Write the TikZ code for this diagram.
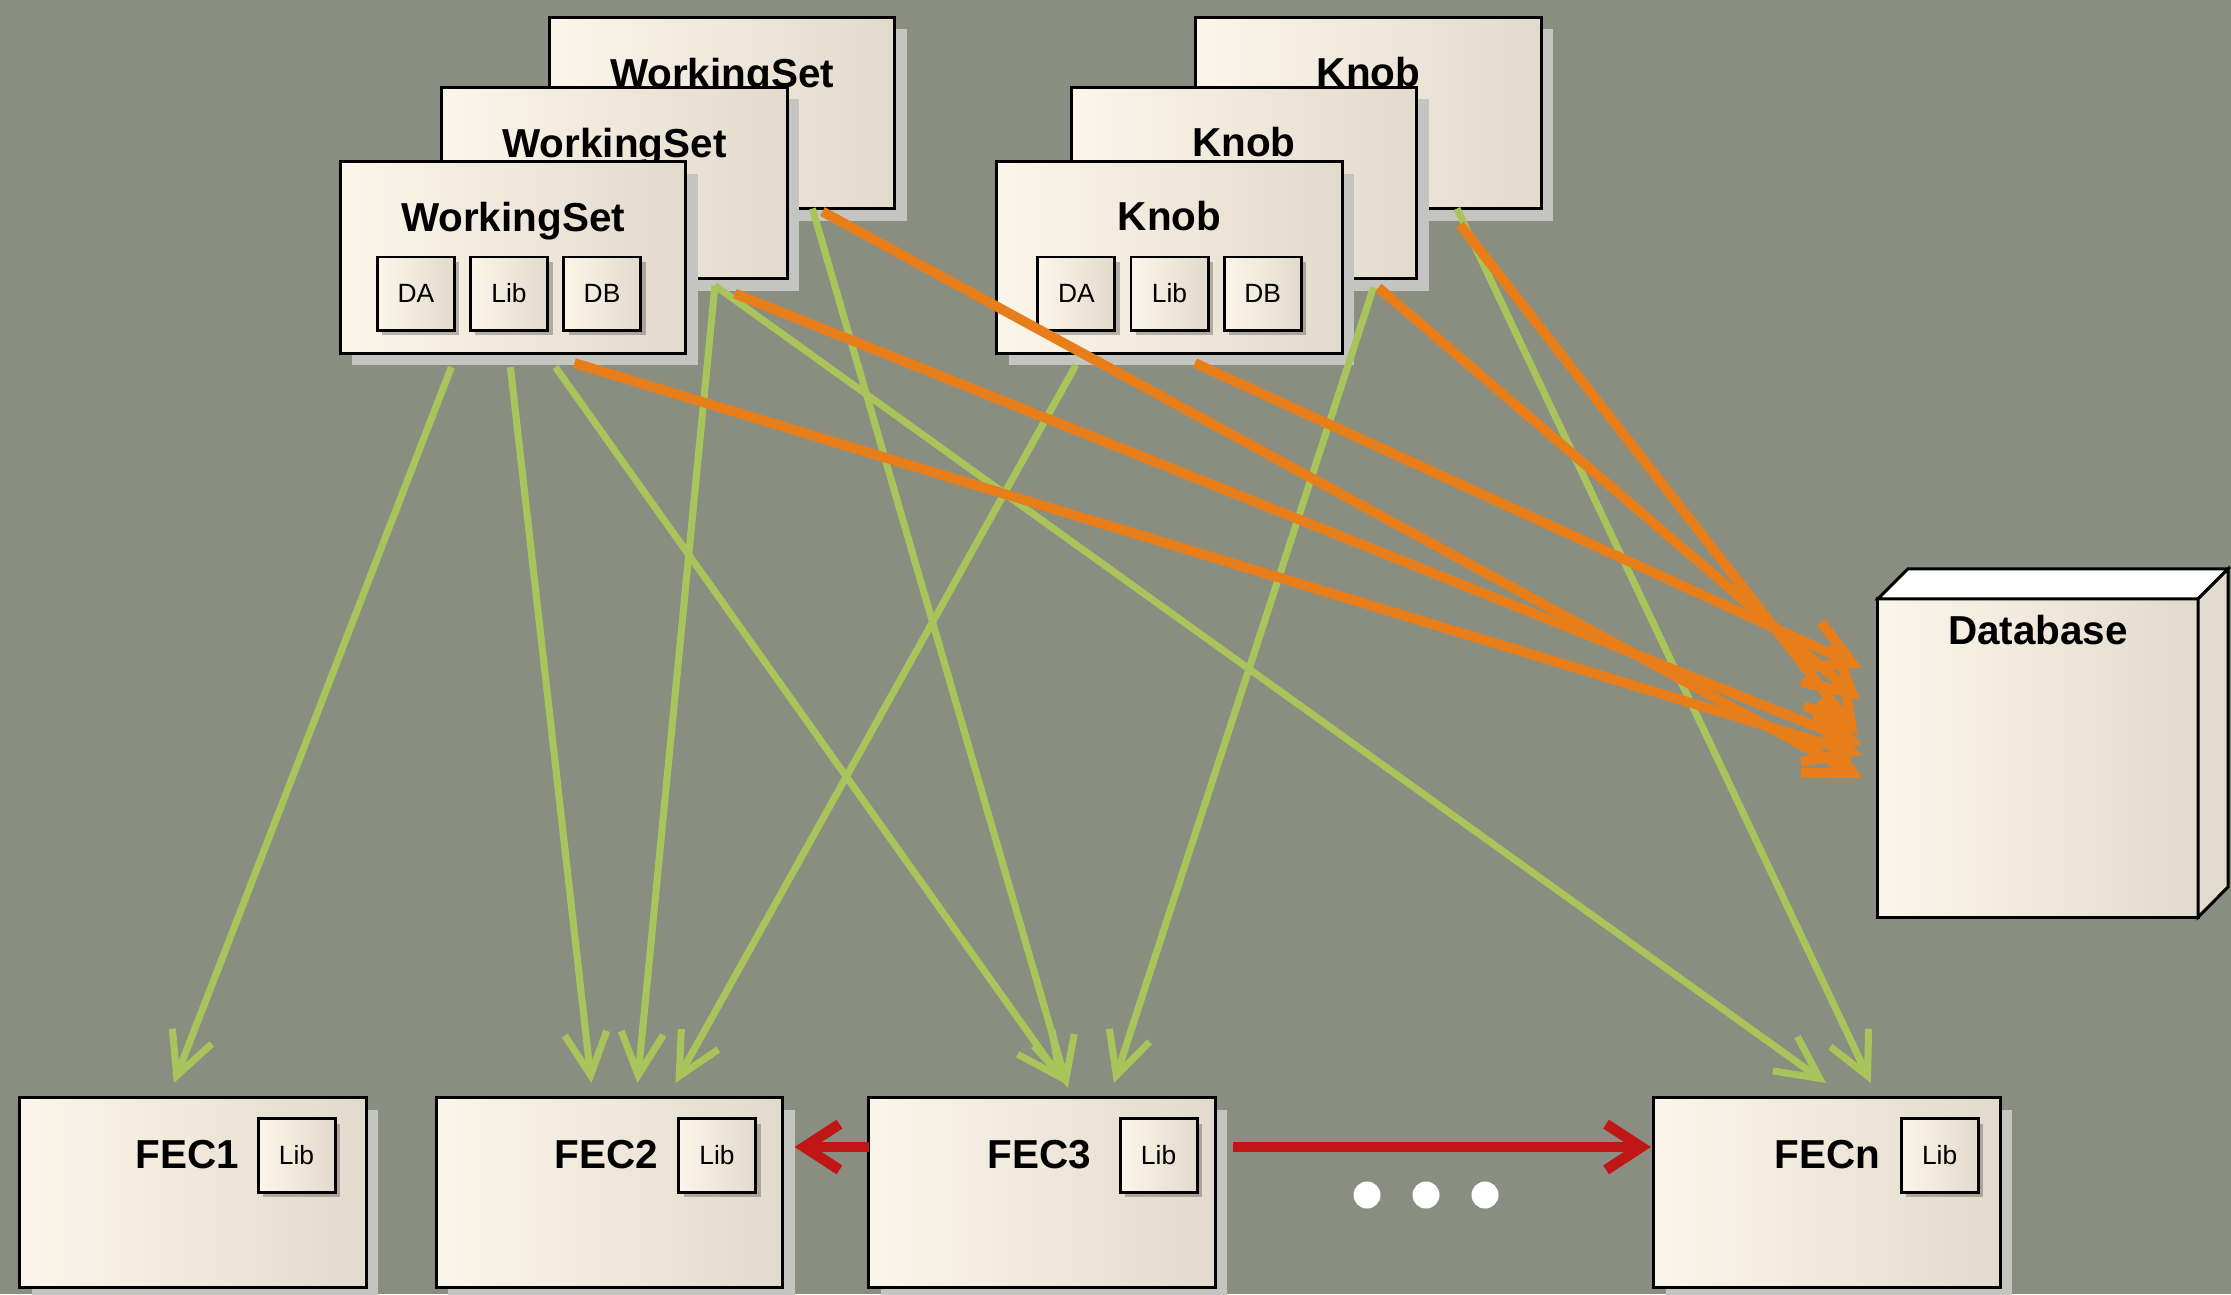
\documentclass[tikz,border=0pt]{standalone}
\usepackage{fontspec}
\setmainfont{Liberation Sans}
\usetikzlibrary{positioning,calc,arrows.meta,shadows}
\definecolor{bggray}{RGB}{137,142,129}
\definecolor{cream}{RGB}{252,246,234}
\definecolor{creamdark}{RGB}{226,218,204}
\definecolor{shade}{RGB}{196,197,193}
\definecolor{leaf}{RGB}{170,196,92}
\definecolor{amber}{RGB}{232,126,26}
\definecolor{brick}{RGB}{192,22,22}
\tikzset{
  face/.style={draw=black, line width=0.85pt, left color=cream, right color=creamdark,
    inner sep=0pt, outer sep=0pt},
  box/.style={face, minimum width=3.45cm, minimum height=1.91cm,
    drop shadow={shadow xshift=0.12cm, shadow yshift=-0.12cm, fill=shade, opacity=1}},
  part/.style={face, minimum width=0.77cm, minimum height=0.73cm,
    font=\fontsize{7.5}{9}\selectfont,
    drop shadow={shadow xshift=0.05cm, shadow yshift=-0.05cm, fill=black, opacity=.25}},
  title/.style={font=\bfseries\fontsize{11.5}{13}\selectfont, inner sep=0pt},
  leafarrow/.style={draw=leaf, line width=2pt, -{Straight Barb[length=12pt,width=12pt]}},
  amberarrow/.style={draw=amber, line width=2.8pt, -{Straight Barb[length=13pt,width=14pt]}},
  brickarrow/.style={draw=brick, line width=3pt, -{Straight Barb[length=10pt,width=13pt]}}
}
\begin{document}
\begin{tikzpicture}[x=0.01cm, y=-0.01cm]
  \useasboundingbox (0,0) rectangle (2231,1294);
  \fill[bggray] (0,0) rectangle (2231,1294);

  \foreach \n/\x/\y in {ws3/722/113, ws2/614.5/183, ws1/513/257.5} {
    \node[box] (\n) at (\x,\y) {};
    \node[title, anchor=base] (\n-t) at ([yshift=-0.70cm]\n.north) {WorkingSet};
  }
  \node[part] (ws1lib) at ([yshift=-0.36cm,xshift=-0.04cm]ws1.center) {Lib};
  \node[part, left=0.16cm of ws1lib] (ws1da) {DA};
  \node[part, right=0.16cm of ws1lib] (ws1db) {DB};

  \foreach \n/\x/\y in {kn3/1368.5/113, kn2/1244/183, kn1/1169.5/257.5} {
    \node[box] (\n) at (\x,\y) {};
    \node[title, anchor=base] (\n-t) at ([yshift=-0.69cm]\n.north) {Knob};
  }
  \node[part] (kn1lib) at ([yshift=-0.36cm]kn1.center) {Lib};
  \node[part, left=0.16cm of kn1lib] (kn1da) {DA};
  \node[part, right=0.16cm of kn1lib] (kn1db) {DB};

  \node[face, minimum width=3.2cm, minimum height=3.18cm] (db) at (2038,758) {};
  \draw[fill=white, line width=0.85pt] (db.north west) -- ++(30,-30) -- ++(320,0) -- (db.north east) -- cycle;
  \draw[fill=creamdark, line width=0.85pt] (db.north east) -- ++(30,-30) -- ++(0,318) -- (db.south east) -- cycle;
  \node[title, anchor=base] (db-t) at ([yshift=-0.46cm]db.north) {Database};

  \foreach \n/\x/\t/\i/\g in {fec1/193/FEC1/0.31/0.18, fec2/609.5/FEC2/0.27/0.20,
      fec3/1042/FEC3/0.18/0.28, fecn/1827/FECn/0.22/0.20} {
    \node[box, minimum width=3.46cm, minimum height=1.89cm] (\n) at (\x,1192.5) {};
    \node[part, anchor=north east] (\n lib) at ([xshift=-\i cm,yshift=-0.21cm]\n.north east) {Lib};
    \node[title, anchor=base east] (\n-t) at ([xshift=-\g cm,yshift=-0.13cm]\n lib.west) {\t};
  }

  \foreach \x in {1367,1426,1485}
    \fill[white] (\x,1195) circle (0.135cm);

  \draw[brickarrow] ([yshift=0.455cm]fec3.west) -- ([yshift=0.455cm,xshift=0.12cm]fec2.east);
  \draw[brickarrow] ([yshift=0.455cm,xshift=0.18cm]fec3.east) -- ([yshift=0.455cm,xshift=-0.03cm]fecn.west);

  \draw[leafarrow] ($(ws1.south west)+(111,14)$) -- ($(fec1.north west)+(154,-15)$);
  \draw[leafarrow] ($(ws1.south west)+(170,14)$) -- ($(fec2.north west)+(155,-15)$);
  \draw[leafarrow] ($(ws1.south west)+(215,14)$) -- ($(fec3.north west)+(195,-15)$);
  \draw[leafarrow] ($(ws2.south west)+(273,7)$) -- ($(fec2.north west)+(201,-15)$);
  \draw[leafarrow] ($(ws2.south west)+(273,7)$) -- ($(fecn.north west)+(172,-15)$);
  \draw[leafarrow] ($(ws3.south west)+(263,0)$) -- ($(fec3.north west)+(199,-10)$);
  \draw[leafarrow] ($(kn1.south west)+(79,12)$) -- ($(fec2.north west)+(239,-15)$);
  \draw[leafarrow] ($(kn2.south west)+(302,9)$) -- ($(fec3.north west)+(245,-15)$);
  \draw[leafarrow] ($(kn3.south west)+(261,0)$) -- ($(fecn.north west)+(217,-15)$);

  \draw[amberarrow] ($(ws1.south west)+(234,10)$) -- ($(db.north west)+(-16,156)$);
  \draw[amberarrow] ($(ws2.south west)+(293,15)$) -- ($(db.north west)+(-16,146)$);
  \draw[amberarrow] ($(ws3.south west)+(273,3)$) -- ($(db.north west)+(-16,179)$);
  \draw[amberarrow] ($(kn1.south west)+(198,10)$) -- ($(db.north west)+(-16,69)$);
  \draw[amberarrow] ($(kn2.south west)+(307,9)$) -- ($(db.north west)+(-18,101)$);
  \draw[amberarrow] ($(kn3.south west)+(264,16)$) -- ($(db.north west)+(-20,136)$);
\end{tikzpicture}
\end{document}
